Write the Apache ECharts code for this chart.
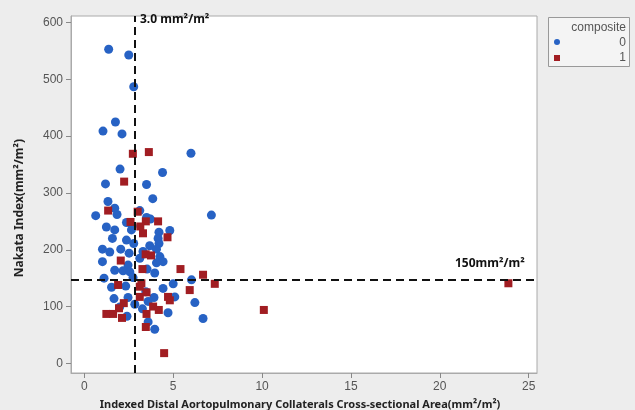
<!DOCTYPE html>
<html>
<head>
<meta charset="utf-8">
<script src="https://cdn.jsdelivr.net/npm/echarts@6/dist/echarts.min.js"></script>
<style>
  html, body { margin: 0; padding: 0; background: #ededed; }
  #main { width: 635px; height: 410px; }
</style>
</head>
<body>
<div id="main"></div>
<script>
// composite = 0 (blue circles)
var composite0 = [
  [1.37,553],[2.5,543],[2.78,487],[1.75,425],[1.05,409],[2.12,404],[6.0,370],
  [2.01,342],[4.4,336],[1.19,316],[3.5,315],[3.85,290],[1.33,285],[1.71,273],
  [1.84,262],[0.64,260],[3.12,269],[7.15,261],[3.5,257],[3.72,254],[2.37,248],
  [2.7,242],[1.24,240],[1.71,235],[2.65,235],[4.2,231],[4.81,234],[1.58,220],
  [4.15,220],[2.37,217],[2.78,211],[4.2,211],[3.68,207],[1.02,201],[1.43,196],
  [2.05,201],[2.52,194],[3.3,197],[4.06,201],[3.12,185],[4.25,188],[1.02,179],
  [4.43,179],[4.06,177],[2.46,173],[1.71,164],[2.18,163],[2.56,161],[3.53,166],
  [3.96,159],[1.11,150],[2.74,151],[6.03,147],[5.0,140],[1.53,134],[2.33,136],
  [3.46,126],[4.43,132],[5.09,117],[1.67,114],[2.46,116],[3.92,116],[3.59,109],
  [6.22,107],[2.84,104],[1.99,99],[3.27,96],[2.4,83],[4.71,89],[6.68,79],
  [3.59,73],[3.96,60]
];
// composite = 1 (red squares)
var composite1 = [
  [2.73,369],[3.63,372],[2.24,320],[1.34,269],[3.0,267],[2.6,249],[3.46,250],
  [4.15,250],[3.15,241],[3.3,229],[4.68,222],[3.45,192],[3.75,190],[2.05,181],
  [5.41,166],[3.27,166],[6.68,156],[7.34,140],[1.9,138],[3.12,135],[3.21,141],
  [5.93,129],[3.12,117],[4.71,117],[4.81,111],[2.22,106],[1.95,97],[3.87,100],
  [4.19,94],[1.24,87],[1.62,87],[2.12,80],[3.5,87],[3.46,64],[4.49,18],
  [23.86,141],[10.1,94],[3.5,125]
];
var xTicks = [0, 5, 10, 15, 20, 25];
var yTicks = [0, 100, 200, 300, 400, 500, 600];
var cutoffX = 2.85;   // drawn line for "3.0 mm²/m²"
var cutoffY = 147;    // drawn line for "150mm²/m²"

var chart = echarts.init(document.getElementById('main'));
var labelStyle = { color: '#555', fontSize: 12, fontFamily: 'Liberation Sans' };

chart.setOption({
  backgroundColor: '#ededed',
  animation: false,
  grid: {
    left: 71, top: 16, right: 98, bottom: 37,
    show: true, backgroundColor: '#fff', borderColor: '#aaa', borderWidth: 1
  },
  xAxis: {
    type: 'value', min: -0.75, max: 25.47,
    axisLine: { show: true, onZero: false, lineStyle: { color: '#aaa' } },
    axisTick: { show: true, customValues: xTicks, length: 5, lineStyle: { color: '#888' } },
    axisLabel: Object.assign({ customValues: xTicks, margin: 8 }, labelStyle),
    splitLine: { show: false }
  },
  yAxis: {
    type: 'value', min: -17, max: 611.6,
    axisLine: { show: true, onZero: false, lineStyle: { color: '#aaa' } },
    axisTick: { show: true, customValues: yTicks, length: 5, lineStyle: { color: '#888' } },
    axisLabel: Object.assign({ customValues: yTicks, margin: 8 }, labelStyle),
    splitLine: { show: false }
  },
  series: [
    {
      name: '0', type: 'scatter', data: composite0,
      symbol: 'circle', symbolSize: 9,
      itemStyle: { color: '#2762c4', opacity: 1 },
      z: 3
    },
    {
      name: '1', type: 'scatter', data: composite1,
      symbol: 'rect', symbolSize: 8,
      itemStyle: { color: '#a11d22', opacity: 1 },
      z: 4,
      markLine: {
        silent: true, symbol: 'none', animation: false,
        lineStyle: { color: '#111', type: [8, 5], width: 2 },
        label: { show: false },
        data: [{ xAxis: cutoffX }, { yAxis: cutoffY }]
      }
    }
  ],
  graphic: [
    { type: 'text', x: 140, y: 20, style: { text: '3.0 mm²/m²', font: 'bold 12px "Noto Sans"', fill: '#111', verticalAlign: 'middle' } },
    { type: 'text', x: 455, y: 264, style: { text: '150mm²/m²', font: 'bold 12px "Noto Sans"', fill: '#111', verticalAlign: 'middle' } },
    { type: 'text', x: 20, y: 208, rotation: Math.PI / 2, style: { text: 'Nakata Index(mm²/m²)', font: 'bold 12px "Noto Sans"', fill: '#222', align: 'center', verticalAlign: 'middle' } },
    { type: 'text', x: 300, y: 405, style: { text: 'Indexed Distal Aortopulmonary Collaterals Cross-sectional Area(mm²/m²)', font: 'bold 11px "Noto Sans"', fill: '#222', align: 'center', verticalAlign: 'middle' } },
    // legend box
    { type: 'rect', shape: { x: 548.5, y: 17.5, width: 81, height: 49 }, style: { fill: '#f4f4f4', stroke: '#999', lineWidth: 1 } },
    { type: 'text', x: 626, y: 28, style: { text: 'composite', font: '12px "Liberation Sans"', fill: '#555', align: 'right', verticalAlign: 'middle' } },
    { type: 'circle', shape: { cx: 557, cy: 42, r: 3 }, style: { fill: '#2762c4' } },
    { type: 'text', x: 626, y: 43, style: { text: '0', font: '12px "Liberation Sans"', fill: '#555', align: 'right', verticalAlign: 'middle' } },
    { type: 'rect', shape: { x: 554, y: 55, width: 6, height: 6 }, style: { fill: '#a11d22' } },
    { type: 'text', x: 626, y: 58, style: { text: '1', font: '12px "Liberation Sans"', fill: '#555', align: 'right', verticalAlign: 'middle' } }
  ]
});
</script>
</body>
</html>
